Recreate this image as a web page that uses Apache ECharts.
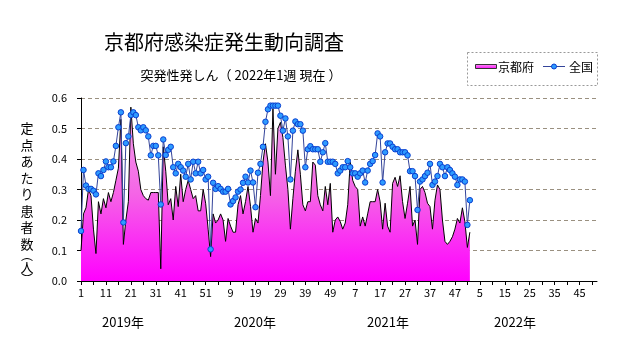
<!DOCTYPE html>
<html><head><meta charset="utf-8">
<script src="https://cdn.jsdelivr.net/npm/echarts@6/dist/echarts.min.js"></script>
<style>html,body{margin:0;padding:0;background:#fff}#c{width:631px;height:347px}</style>
</head><body><div id="c"></div>
<script>
const title = '京都府感染症発生動向調査';
const subtitle = '突発性発しん（ 2022年1週 現在 ）';
const yAxisChars = ['定', '点', 'あ', 'た', 'り', '患', '者', '数'];
const yAxisUnit = ['︵', '人', '︶'];
const yearLabels = ['2019年', '2020年', '2021年', '2022年'];
const weeksPerYear = [52, 52, 52, 52];
const seriesNames = ['京都府', '全国'];

const kyoto = [
0.10,0.22,0.24,0.30,0.28,0.17,0.09,0.26,0.22,0.27,
0.24,0.29,0.26,0.29,0.33,0.37,0.53,0.12,0.20,0.26,
0.57,0.45,0.39,0.36,0.30,0.28,0.27,0.265,0.29,0.29,
0.29,0.29,0.04,0.44,0.36,0.25,0.27,0.20,0.31,0.244,
0.35,0.26,0.30,0.33,0.30,0.27,0.28,0.23,0.23,0.30,
0.255,0.17,0.08,0.22,0.19,0.20,0.22,0.20,0.13,0.205,
0.18,0.16,0.16,0.25,0.28,0.22,0.26,0.31,0.245,0.16,
0.205,0.19,0.28,0.39,0.45,0.39,0.28,0.565,0.35,0.50,
0.52,0.47,0.38,0.30,0.17,0.27,0.36,0.43,0.35,0.25,
0.23,0.26,0.26,0.39,0.38,0.28,0.25,0.23,0.31,0.25,
0.32,0.16,0.20,0.21,0.195,0.17,0.19,0.25,0.39,0.33,
0.31,0.30,0.18,0.21,0.18,0.22,0.26,0.26,0.26,0.30,
0.26,0.17,0.255,0.18,0.16,0.32,0.34,0.31,0.345,0.26,
0.205,0.255,0.31,0.18,0.20,0.12,0.30,0.31,0.29,0.255,
0.244,0.17,0.265,0.315,0.30,0.20,0.13,0.12,0.13,0.145,
0.17,0.205,0.19,0.24,0.195,0.11,0.16
];

const national = [
0.164,0.364,0.313,0.302,0.302,0.296,0.284,0.353,0.344,0.364,
0.392,0.373,0.373,0.392,0.443,0.504,0.553,0.192,0.452,0.474,
0.544,0.553,0.544,0.504,0.494,0.504,0.494,0.474,0.412,0.443,
0.443,0.412,0.251,0.464,0.413,0.43,0.44,0.373,0.353,0.384,
0.373,0.362,0.342,0.384,0.333,0.391,0.353,0.391,0.353,0.364,
0.333,0.342,0.104,0.322,0.302,0.311,0.302,0.293,0.293,0.302,
0.251,0.262,0.274,0.293,0.30,0.322,0.342,0.323,0.362,0.323,
0.242,0.355,0.384,0.44,0.522,0.563,0.575,0.575,0.575,0.575,
0.542,0.493,0.533,0.474,0.333,0.493,0.523,0.514,0.514,0.493,
0.373,0.432,0.442,0.432,0.432,0.432,0.391,0.422,0.452,0.391,
0.391,0.391,0.384,0.353,0.362,0.373,0.373,0.393,0.373,0.353,
0.353,0.342,0.353,0.362,0.323,0.362,0.384,0.393,0.413,0.484,
0.474,0.323,0.422,0.451,0.451,0.44,0.432,0.432,0.422,0.422,
0.422,0.412,0.36,0.36,0.344,0.233,0.326,0.333,0.344,0.355,
0.384,0.315,0.326,0.344,0.384,0.373,0.344,0.373,0.364,0.353,
0.342,0.315,0.333,0.333,0.326,0.184,0.265
];

// week-number categories
const categories = [];
weeksPerYear.forEach(n => { for (let w = 1; w <= n; w++) categories.push(String(w)); });

const FONT = '"Noto Sans CJK JP", "Noto Sans", sans-serif';
const chart = echarts.init(document.getElementById('c'), null, {renderer: 'canvas'});

const yearX = [123, 255, 388, 515];

const yLabelText = yAxisChars.map(c => '{c|' + c + '}').join('\n') + '\n' +
  '{p|' + yAxisUnit[0] + '}\n{c|' + yAxisUnit[1] + '}\n{p|' + yAxisUnit[2] + '}';

const option = {
  animation: false,
  backgroundColor: '#fff',
  textStyle: {fontFamily: FONT},
  grid: {left: 81, right: 34, top: 98, bottom: 66, containLabel: false},
  xAxis: {
    type: 'category',
    data: categories,
    boundaryGap: false,
    axisLine: {lineStyle: {color: '#000', width: 1}},
    axisTick: {show: true, interval: 4, length: 4, lineStyle: {color: '#000'}},
    axisLabel: {interval: 9, color: '#000', fontSize: 11, margin: 6, fontFamily: FONT},
    splitLine: {show: false}
  },
  yAxis: {
    type: 'value',
    min: 0, max: 0.6, interval: 0.1,
    axisLine: {show: true, lineStyle: {color: '#000', width: 1}},
    axisTick: {show: true, length: 4, lineStyle: {color: '#000'}},
    axisLabel: {color: '#000', fontSize: 11, margin: 14, fontFamily: FONT,
      formatter: v => v.toFixed(1)},
    splitLine: {show: true, lineStyle: {color: '#9a9080', type: [4, 3], width: 1}}
  },
  series: [
    {
      name: seriesNames[0], type: 'line', data: kyoto, symbol: 'none', z: 2,
      lineStyle: {color: '#000', width: 1},
      areaStyle: {
        opacity: 1,
        color: new echarts.graphic.LinearGradient(0, 0, 0, 1, [
          {offset: 0, color: '#f2a6ec'},
          {offset: 0.5, color: '#f564e6'},
          {offset: 1, color: '#ff00ff'}
        ])
      }
    },
    {
      name: seriesNames[1], type: 'line', data: national, z: 3,
      symbol: 'circle', symbolSize: 5.5, showAllSymbol: true,
      lineStyle: {color: '#34449a', width: 1},
      itemStyle: {color: '#2e9bff', borderColor: '#0a3fd0', borderWidth: 1}
    }
  ],
  graphic: [
    {type: 'text', style: {text: title, x: 224, y: 42, fontSize: 20, fill: '#000', fontFamily: FONT, textAlign: 'center', textVerticalAlign: 'middle'}},
    {type: 'text', style: {text: subtitle, x: 241, y: 75, fontSize: 13, fill: '#000', fontFamily: FONT, textAlign: 'center', textVerticalAlign: 'middle'}},
    {type: 'text', style: {text: yLabelText, x: 27, y: 120, fill: '#000', fontFamily: FONT, textAlign: 'center', textVerticalAlign: 'top',
      rich: {c: {fontSize: 13, lineHeight: 16.5, fontFamily: FONT, align: 'center'}, p: {fontSize: 12, lineHeight: 7, fontFamily: FONT, align: 'center'}}}},
    // legend
    {type: 'rect', shape: {x: 467.5, y: 52.5, width: 130, height: 33}, style: {fill: '#fff', stroke: '#999', lineWidth: 1, lineDash: [2, 2]}},
    {type: 'rect', shape: {x: 475.5, y: 64.5, width: 21, height: 4}, style: {
      fill: new echarts.graphic.LinearGradient(0, 0, 0, 1, [{offset: 0, color: '#f7a0f0'}, {offset: 1, color: '#ff00ff'}]),
      stroke: '#333', lineWidth: 1}},
    {type: 'text', style: {text: seriesNames[0], x: 498, y: 67, fontSize: 12, fill: '#000', fontFamily: FONT, textVerticalAlign: 'middle'}},
    {type: 'line', shape: {x1: 543, y1: 66.5, x2: 565, y2: 66.5}, style: {stroke: '#34449a', lineWidth: 1}},
    {type: 'circle', shape: {cx: 554, cy: 66.5, r: 2.5}, style: {fill: '#2e9bff', stroke: '#0a3fd0', lineWidth: 1}},
    {type: 'text', style: {text: seriesNames[1], x: 569, y: 67, fontSize: 12, fill: '#000', fontFamily: FONT, textVerticalAlign: 'middle'}}
  ].concat(yearLabels.map((t, i) => ({
    type: 'text', style: {text: t, x: yearX[i], y: 322, fontSize: 13, fill: '#000', fontFamily: FONT, textAlign: 'center', textVerticalAlign: 'middle'}
  })))
};
chart.setOption(option);
</script>
</body></html>
